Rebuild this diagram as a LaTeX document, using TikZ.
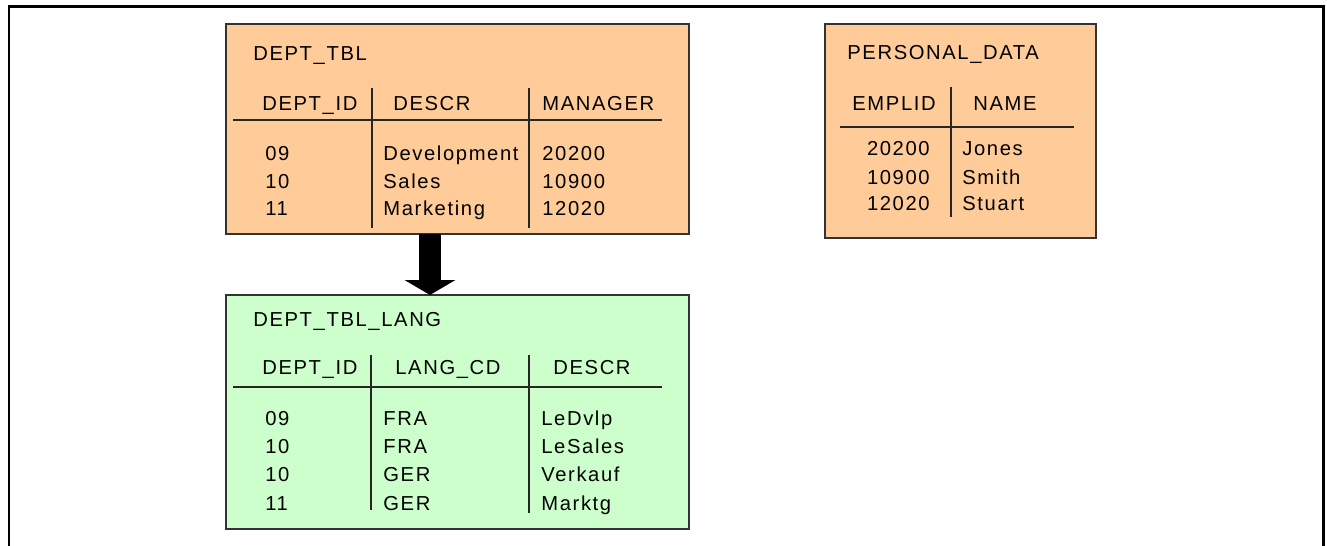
\documentclass[tikz,border=0pt]{standalone}
\usepackage{fontspec}
\setmainfont{Liberation Sans}[LetterSpace=8]
\usetikzlibrary{arrows.meta}
\definecolor{tblorange}{HTML}{FFCC99}
\definecolor{tblgreen}{HTML}{CCFFCC}
\definecolor{tblborder}{HTML}{333333}
\tikzset{
	tbox/.style={draw=tblborder,line width=1pt,anchor=north west,inner sep=0pt,outer sep=0pt},
	ttext/.style={anchor=west,inner sep=0pt,text height=8.2pt,text depth=0pt,font=\fontsize{11.5}{13}\selectfont},
	rtext/.style={anchor=east,inner sep=0pt,text height=8.2pt,text depth=0pt,font=\fontsize{11.5}{13}\selectfont},
	rule/.style={line width=1pt,black!85},
	bigarrow/.style={line width=13pt,-{Triangle[length=8.5pt,width=28.5pt]}}}

\begin{document}
\begin{tikzpicture}[x=0.02cm,y=-0.02cm]
	\useasboundingbox (0,0) rectangle (1327,546);
	% outer frame, open at the bottom
	\draw [line width=1.7pt] (9,546) -- (9,7) -- (1323,7) -- (1323,546);
	% tables
	\node (dept) at (226,24) [tbox,fill=tblorange,minimum width=9.26cm,minimum height=4.2cm] {};
	\node (lang) at (226,295) [tbox,fill=tblgreen,minimum width=9.26cm,minimum height=4.68cm] {};
	\node (pers) at (825,24) [tbox,fill=tblorange,minimum width=5.42cm,minimum height=4.28cm] {};
	% DEPT_TBL
	\node (dT) at (253,53) [ttext] {DEPT\_TBL};
	\node (dH1) at (262,103) [ttext] {DEPT\_ID};
	\node (dH2) at (393,103) [ttext] {DESCR};
	\node (dH3) at (542,103) [ttext] {MANAGER};
	\draw [rule] (233,120) -- (662,120);
	\draw [rule] (372,88) -- (372,228);
	\draw [rule] (529,88) -- (529,228);
	\node (d11) at (265,153) [ttext] {09};
	\node (d21) at (265,181) [ttext] {10};
	\node (d31) at (265,208) [ttext] {11};
	\node (d12) at (383,153) [ttext] {Development};
	\node (d22) at (383,181) [ttext] {Sales};
	\node (d32) at (383,208) [ttext] {Marketing};
	\node (d13) at (542,153) [ttext] {20200};
	\node (d23) at (542,181) [ttext] {10900};
	\node (d33) at (542,208) [ttext] {12020};
	% DEPT_TBL_LANG
	\node (lT) at (253,319) [ttext] {DEPT\_TBL\_LANG};
	\node (lH1) at (262,367) [ttext] {DEPT\_ID};
	\node (lH2) at (395,367) [ttext] {LANG\_CD};
	\node (lH3) at (553,367) [ttext] {DESCR};
	\draw [rule] (233,387) -- (662,387);
	\draw [rule] (371,355) -- (371,510);
	\draw [rule] (529,355) -- (529,513);
	\node (l11) at (265,418) [ttext] {09};
	\node (l21) at (265,446) [ttext] {10};
	\node (l31) at (265,474) [ttext] {10};
	\node (l41) at (265,503) [ttext] {11};
	\node (l12) at (383,418) [ttext] {FRA};
	\node (l22) at (383,446) [ttext] {FRA};
	\node (l32) at (383,474) [ttext] {GER};
	\node (l42) at (383,503) [ttext] {GER};
	\node (l13) at (541,418) [ttext] {LeDvlp};
	\node (l23) at (541,446) [ttext] {LeSales};
	\node (l33) at (541,474) [ttext] {Verkauf};
	\node (l43) at (541,503) [ttext] {Marktg};
	% PERSONAL_DATA
	\node (pT) at (847,52) [ttext] {PERSONAL\_DATA};
	\node (pH1) at (852,103) [ttext] {EMPLID};
	\node (pH2) at (973,103) [ttext] {NAME};
	\draw [rule] (840,127) -- (1074,127);
	\draw [rule] (951,87) -- (951,217);
	\node (p11) at (930,148) [rtext] {20200};
	\node (p21) at (930,177) [rtext] {10900};
	\node (p31) at (930,203) [rtext] {12020};
	\node (p12) at (962,148) [ttext] {Jones};
	\node (p22) at (962,177) [ttext] {Smith};
	\node (p32) at (962,203) [ttext] {Stuart};
	% base table to language table
	\draw [bigarrow] ([xshift=-0.55cm]dept.south) -- ([xshift=-0.55cm]lang.north);
\end{tikzpicture}
\end{document}
